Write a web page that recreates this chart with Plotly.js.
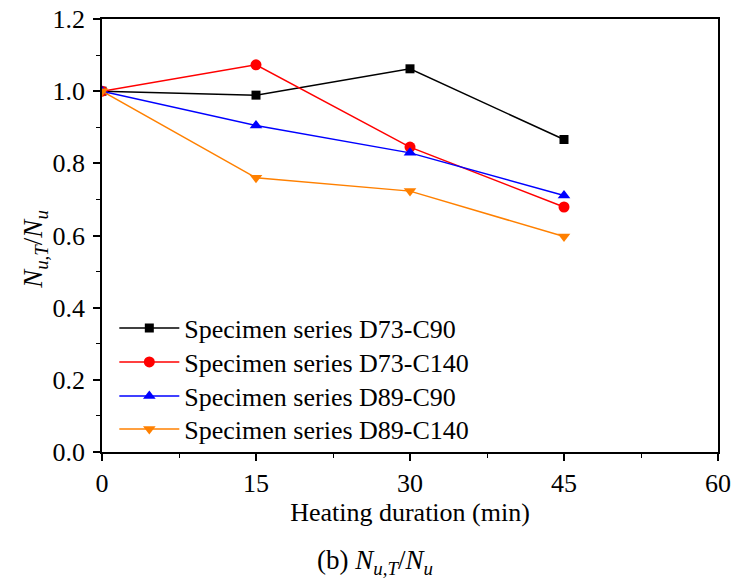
<!DOCTYPE html>
<html>
<head>
<meta charset="utf-8">
<script src="https://cdn.plot.ly/plotly-3.0.1.min.js"></script>
<style>html,body{margin:0;padding:0;background:#fff;}#chart{width:737px;height:581px;}</style>
</head>
<body>
<div id="chart"></div>
<script>
const durations = [0, 15, 30, 45];
const seriesNames = ["Specimen series D73-C90", "Specimen series D73-C140", "Specimen series D89-C90", "Specimen series D89-C140"];
const d73c90 = [1.0, 0.989, 1.062, 0.866];
const d73c140 = [1.0, 1.073, 0.845, 0.679];
const d89c90 = [1.0, 0.905, 0.829, 0.711];
const d89c140 = [1.0, 0.760, 0.723, 0.597];
const xTicks = [0, 15, 30, 45, 60];
const yTicks = [0.0, 0.2, 0.4, 0.6, 0.8, 1.0, 1.2];

const colors = ["#000000", "#ff0000", "#0000ff", "#ff8000"];
const symbols = ["square", "circle", "triangle-up", "triangle-down"];
const sizes = [9, 11, 11, 11];
const values = [d73c90, d73c140, d89c90, d89c140];
const legendIds = ["legend", "legend2", "legend3", "legend4"];
const legendY = [0.2864, 0.2079, 0.1293, 0.0531];

const traces = values.map((v, i) => ({
  x: durations, y: v, name: seriesNames[i], type: "scatter", mode: "lines+markers",
  line: {color: colors[i], width: 1.5},
  marker: {symbol: symbols[i], size: sizes[i], color: colors[i]},
  legend: legendIds[i]
}));

const fam = "Liberation Serif";
const font = {family: fam, color: "#000", size: 26};
const axisCommon = {
  showline: true, mirror: true, linecolor: "#000", linewidth: 1.5,
  ticks: "outside", ticklen: 7, tickwidth: 1.5, tickcolor: "#000",
  showgrid: false, zeroline: false,
  tickfont: {family: fam, size: 26, color: "#000"}
};
const layout = {
  width: 737, height: 581,
  margin: {l: 102, r: 19, t: 19, b: 129},
  paper_bgcolor: "#fff", plot_bgcolor: "#fff",
  font: font,
  showlegend: true,
  xaxis: Object.assign({}, axisCommon, {
    range: [0, 60], tickmode: "array", tickvals: xTicks, ticktext: xTicks.map(String),
    minor: {dtick: 7.5, ticklen: 4, tickwidth: 1.2, tickcolor: "#000", ticks: "outside"},
    title: {text: "Heating duration (min)", font: {family: fam, size: 26, color: "#000"}, standoff: 4}
  }),
  yaxis: Object.assign({}, axisCommon, {
    range: [0, 1.2], tickmode: "array", tickvals: yTicks, ticktext: yTicks.map(t => t.toFixed(1)),
    ticklabelstandoff: 3,
    minor: {dtick: 0.1, ticklen: 4, tickwidth: 1.2, tickcolor: "#000", ticks: "outside"},
    title: {text: "<i>N</i><sub><i>u,T</i></sub>/<i>N</i><sub><i>u</i></sub>&nbsp;&nbsp;&nbsp;&nbsp;", font: {family: fam, size: 27, color: "#000"}, standoff: 2}
  }),
  annotations: [{
    xref: "paper", yref: "paper", x: 0.443, y: -0.254, xanchor: "center", yanchor: "middle",
    showarrow: false, text: "(b) <i>N</i><sub><i>u,T</i></sub>/<i>N</i><sub><i>u</i></sub>",
    font: {family: fam, size: 27, color: "#000"}
  }]
};
legendIds.forEach((id, i) => {
  layout[id] = {x: 0.02, y: legendY[i], xanchor: "left", yanchor: "middle", bgcolor: "rgba(0,0,0,0)",
    font: {family: fam, size: 26, color: "#000"}, itemwidth: 60};
});
Plotly.newPlot("chart", traces, layout, {displayModeBar: false}).then(gd => {
  gd.querySelectorAll(".xtick text, .ytick text").forEach(t => {
    t.style.fontSize = "26px";
    t.style.fontFamily = "'Liberation Serif', serif";
  });
});
</script>
</body>
</html>
